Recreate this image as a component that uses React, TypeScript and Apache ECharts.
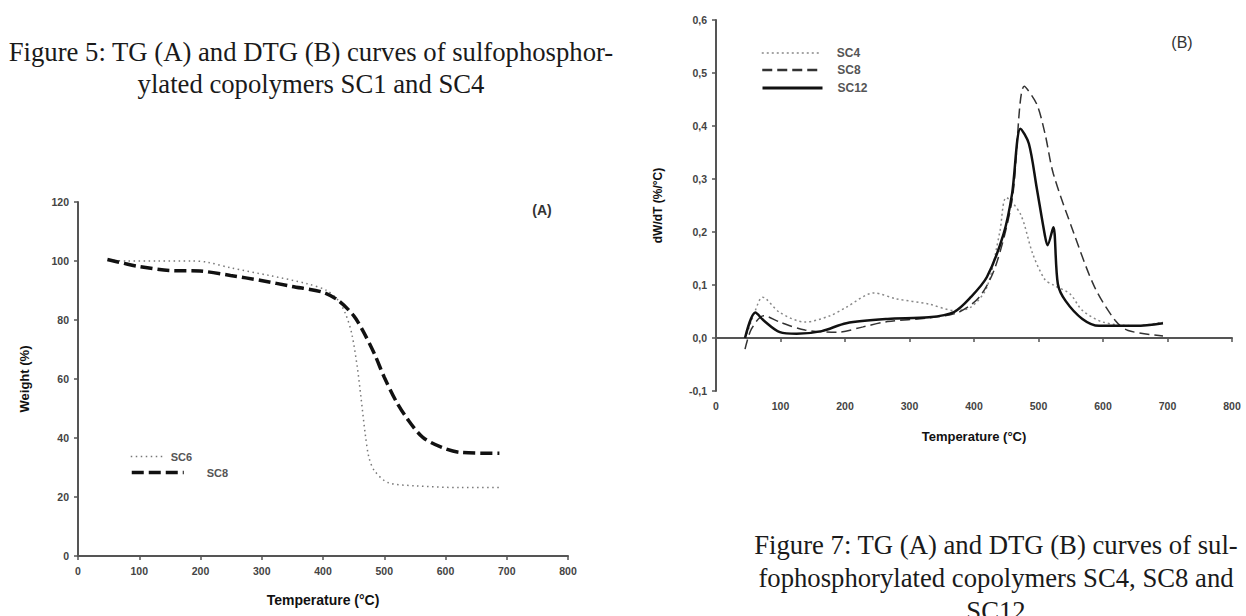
import React, { useEffect, useRef } from "react";
import * as echarts from "echarts";

// ---------- Chart A (TG) ----------
const tempA_SC6 = [50, 80, 130, 186, 211, 249, 312, 374, 406, 425, 437, 447, 456, 462, 469, 475, 484, 506, 550, 625, 688];
const weightA_SC6 = [100.3, 100, 100, 100, 99.6, 97.7, 95.1, 92.3, 90, 86.6, 82, 75.3, 64, 53.8, 41.3, 33.4, 28.9, 24.9, 23.8, 23.2, 23.2];
const tempA_SC8 = [48, 75, 98, 149, 199, 249, 299, 349, 400, 425, 450, 465, 484, 500, 519, 538, 563, 594, 625, 688];
const weightA_SC8 = [100.5, 99.2, 98.2, 96.8, 96.6, 95.1, 93.4, 91.4, 89.4, 86.6, 81.5, 76.4, 68.5, 60.6, 52.6, 46.4, 40.2, 36.8, 35.1, 34.8];

// ---------- Chart B (DTG) ----------
const tempB_SC4 = [48, 61, 72, 99, 138, 177, 202, 245, 279, 330, 369, 395, 420, 440, 450, 472, 491, 510, 523, 549, 568, 600, 651, 693];
const dtgB_SC4 = [0.008, 0.052, 0.077, 0.048, 0.03, 0.042, 0.058, 0.085, 0.074, 0.064, 0.052, 0.058, 0.096, 0.2, 0.265, 0.234, 0.159, 0.11, 0.1, 0.083, 0.052, 0.03, 0.023, 0.03];
const tempB_SC8 = [45, 55, 74, 99, 138, 189, 228, 266, 330, 375, 408, 433, 459, 478, 497, 510, 523, 555, 587, 619, 639, 693];
const dtgB_SC8 = [-0.021, 0.017, 0.042, 0.03, 0.015, 0.011, 0.021, 0.031, 0.038, 0.048, 0.077, 0.134, 0.26, 0.475, 0.442, 0.386, 0.31, 0.197, 0.096, 0.033, 0.014, 0.004];
const tempB_SC12 = [45, 61, 74, 99, 125, 164, 202, 266, 330, 369, 395, 420, 446, 459, 472, 485, 497, 510, 514, 523, 530, 542, 568, 594, 651, 693];
const dtgB_SC12 = [0.0, 0.048, 0.033, 0.011, 0.008, 0.013, 0.028, 0.036, 0.039, 0.049, 0.077, 0.115, 0.197, 0.272, 0.395, 0.367, 0.285, 0.193, 0.175, 0.209, 0.102, 0.07, 0.036, 0.023, 0.023, 0.028];

// ---------- texts ----------
const captionA = ["Figure 5: TG (A) and DTG (B) curves of sulfophosphor-", "ylated copolymers SC1 and SC4"];
const captionB = ["Figure 7: TG (A) and DTG (B) curves of sul-", "fophosphorylated copolymers SC4, SC8 and", "SC12"];
const xTitle = "Temperature (°C)";
const yTitleA = "Weight (%)";
const yTitleB = "dW/dT (%/°C)";

const zip = (xs: number[], ys: number[]) => xs.map((x, i) => [x, ys[i]]);

const SANS = "Liberation Sans, Arial, sans-serif";
const SERIF = "Liberation Serif, Times New Roman, serif";

const axisCommon = {
  axisLine: { show: true, lineStyle: { color: "#555", width: 2 } },
  axisTick: { show: true, length: 4, lineStyle: { color: "#555", width: 1.5 } },
  splitLine: { show: false },
  axisLabel: { color: "#444", fontSize: 10.5, fontWeight: "bold", fontFamily: SANS, margin: 9 },
  nameLocation: "middle",
};

const legendBase = (name: string, left: number, top: number, width: number, lineStyle: any, pad: number, fs: number) => ({
  data: [name],
  left,
  top,
  orient: "vertical",
  itemWidth: width,
  itemHeight: 10,
  formatter: (n: string) => n.split("-")[1],
  lineStyle,
  itemStyle: { opacity: 0 },
  textStyle: { color: "#555", fontSize: fs, fontWeight: "bold", fontFamily: SANS, padding: [0, 0, 0, pad] },
  selectedMode: false,
});

export default function App() {
  const ref = useRef<HTMLDivElement>(null);
  useEffect(() => {
    const chart = echarts.init(ref.current!, null, { renderer: "svg" });
    const styleA6 = { color: "#777", width: 1.5, type: [1.5, 3.5] };
    const styleA8 = { color: "#111", width: 3.5, type: [12, 5] };
    const styleB4 = { color: "#888", width: 1.5, type: [2, 3] };
    const styleB8 = { color: "#333", width: 1.5, type: [10, 5] };
    const styleB12 = { color: "#111", width: 2.5, type: "solid" };
    const option: any = {
      animation: false,
      backgroundColor: "#fff",
      grid: [
        { left: 78, top: 202, width: 490, height: 354 },
        { left: 716, top: 20, width: 516, height: 371 },
      ],
      xAxis: [
        {
          ...axisCommon, type: "value", gridIndex: 0, min: 0, max: 800, interval: 100,
          name: xTitle, nameGap: 37,
          nameTextStyle: { color: "#111", fontSize: 14, fontWeight: "bold", fontFamily: SANS },
        },
        {
          ...axisCommon, type: "value", gridIndex: 1, min: 0, max: 800, interval: 100,
          name: xTitle, nameGap: 39,
          nameTextStyle: { color: "#111", fontSize: 13, fontWeight: "bold", fontFamily: SANS },
        },
      ],
      yAxis: [
        {
          ...axisCommon, type: "value", gridIndex: 0, min: 0, max: 120, interval: 20,
          name: yTitleA, nameGap: 47,
          nameTextStyle: { color: "#111", fontSize: 13, fontWeight: "bold", fontFamily: SANS },
        },
        {
          ...axisCommon, type: "value", gridIndex: 1, min: -0.1, max: 0.6, interval: 0.1,
          name: yTitleB, nameGap: 52,
          axisLabel: { ...axisCommon.axisLabel, formatter: (v: number) => v.toFixed(1).replace(".", ",") },
          nameTextStyle: { color: "#111", fontSize: 12, fontWeight: "bold", fontFamily: SANS },
        },
      ],
      legend: [
        legendBase("A-SC6", 125, 446, 35, styleA6, 0, 11),
        legendBase("A-SC8", 125, 462, 52, styleA8, 18, 11),
        legendBase("B-SC4", 756, 42, 60, styleB4, 10, 12),
        legendBase("B-SC8", 756, 59, 60, { ...styleB8, width: 2.5 }, 10, 12),
        legendBase("B-SC12", 756, 77, 60, { ...styleB12, width: 3 }, 10, 12),
      ],
      series: [
        { name: "A-SC6", type: "line", xAxisIndex: 0, yAxisIndex: 0, data: zip(tempA_SC6, weightA_SC6), symbol: "none", smooth: 0.3, lineStyle: styleA6, itemStyle: { color: "#777" } },
        { name: "A-SC8", type: "line", xAxisIndex: 0, yAxisIndex: 0, data: zip(tempA_SC8, weightA_SC8), symbol: "none", smooth: 0.3, lineStyle: styleA8, itemStyle: { color: "#111" } },
        { name: "B-SC4", type: "line", xAxisIndex: 1, yAxisIndex: 1, data: zip(tempB_SC4, dtgB_SC4), symbol: "none", smooth: 0.3, lineStyle: styleB4, itemStyle: { color: "#888" } },
        { name: "B-SC8", type: "line", xAxisIndex: 1, yAxisIndex: 1, data: zip(tempB_SC8, dtgB_SC8), symbol: "none", smooth: 0.3, lineStyle: styleB8, itemStyle: { color: "#333" } },
        { name: "B-SC12", type: "line", xAxisIndex: 1, yAxisIndex: 1, data: zip(tempB_SC12, dtgB_SC12), symbol: "none", smooth: 0.3, lineStyle: styleB12, itemStyle: { color: "#111" } },
      ],
      graphic: [
        { type: "text", x: 542, y: 210, style: { text: "(A)", fill: "#333", fontSize: 14, fontWeight: "bold", fontFamily: SANS, align: "center", verticalAlign: "middle" } },
        { type: "text", x: 1182, y: 42, style: { text: "(B)", fill: "#333", fontSize: 16, fontFamily: SANS, align: "center", verticalAlign: "middle" } },
        ...captionA.map((t, i) => ({
          type: "text", x: 311, y: 52 + i * 32,
          style: { text: t, fill: "#1a1a1a", fontSize: 26.7, fontFamily: SERIF, align: "center", verticalAlign: "middle" },
        })),
        ...captionB.map((t, i) => ({
          type: "text", x: 996, y: 545 + i * 33,
          style: { text: t, fill: "#1a1a1a", fontSize: 26.7, fontFamily: SERIF, align: "center", verticalAlign: "middle" },
        })),
      ],
    };
    chart.setOption(option);
    return () => chart.dispose();
  }, []);
  return (
    <div
      ref={ref}
      style={{ position: "absolute", left: 0, top: 0, width: 1246, height: 616, background: "#fff" }}
    />
  );
}
